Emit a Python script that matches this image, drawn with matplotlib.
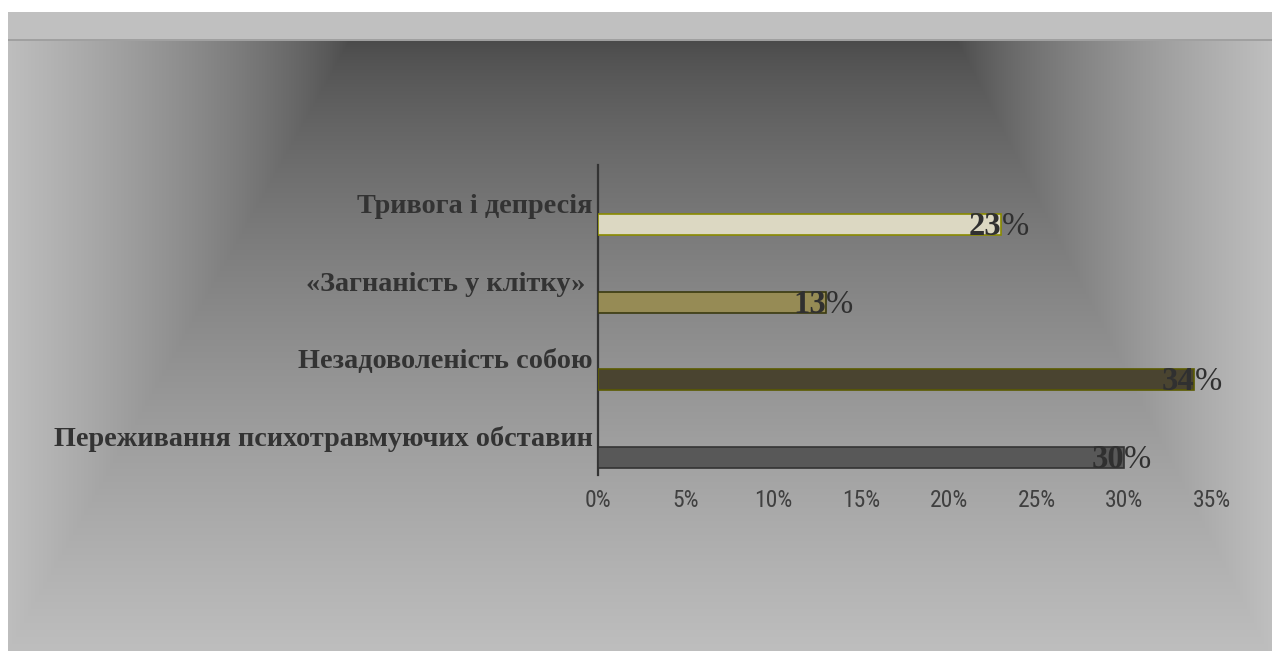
import numpy as np
import matplotlib
matplotlib.use('Agg')
import matplotlib.pyplot as plt
from matplotlib import font_manager

# ---- data ----
categories = ["Переживання психотравмуючих обставин", "Незадоволеність собою",
              "«Загнаність у клітку» ", "Тривога і депресія"]
values = [30, 34, 13, 23]
fill_colors = ["#585858", "#4a4430", "#968b55", "#dcd8c2"]
edge_colors = ["#333333", "#5a5a00", "#3a3a10", "#8a8a00"]
xticks = [0, 5, 10, 15, 20, 25, 30, 35]
xtick_labels = ["0%", "5%", "10%", "15%", "20%", "25%", "30%", "35%"]

# pick a narrow sans font for the tick labels if one is installed
fonts = font_manager.fontManager.ttflist
narrow_family, narrow_stretch = "DejaVu Sans", "normal"
for cand in ["Liberation Sans Narrow", "Roboto Condensed", "Open Sans Condensed", "Noto Sans Condensed"]:
    if any(f.name == cand for f in fonts):
        narrow_family = cand
        break
else:
    for f in fonts:
        if f.name in ("Roboto", "Noto Sans", "DejaVu Sans", "Open Sans") and "condensed" in str(f.stretch).lower():
            narrow_family, narrow_stretch = f.name, "condensed"
            break

W, H = 1274, 651
fig = plt.figure(figsize=(W / 100, H / 100), dpi=100)

# ---- background gradient ----
bg = fig.add_axes([0, 0, 1, 1])
bg.set_axis_off()
yy, xx = np.mgrid[0:H, 0:W] + 0.5
tl = (350 - xx) / 342
tr = (xx - 957) / 311
tv = (yy - 40) / 611
t = np.clip(np.maximum.reduce([tl, tr, tv]), 0, 1)
val = 74 + 116 * t ** 0.75
val[yy < 39] = 192
band = (yy >= 39) & (yy < 41)
val[band] = 160
img = np.stack([val] * 3, -1) / 255.0
white = (yy < 12) | (xx < 8) | (xx > 1272)
img[white] = 1.0
bg.imshow(img, extent=[0, W, H, 0], aspect='auto', interpolation='bilinear')
bg.set_xlim(0, W)
bg.set_ylim(H, 0)

# ---- main axes ----
ax = fig.add_axes([598 / W, (H - 475) / H, 614 / W, 310 / H])
ax.patch.set_alpha(0)
pos = np.arange(len(categories))
off = 0.27
bh = 0.27
ax.barh(pos - off, values, height=bh, color=fill_colors, edgecolor=edge_colors, linewidth=1.2, zorder=3)
ax.set_xlim(0, 35)
ax.set_ylim(-0.5, len(categories) - 0.5)
for s in ["top", "right", "bottom"]:
    ax.spines[s].set_visible(False)
ax.spines["left"].set_color("#333333")
ax.spines["left"].set_linewidth(1.6)
ax.set_xticks(xticks)
ax.set_xticklabels(xtick_labels, family=[narrow_family], fontstretch=narrow_stretch,
                   fontsize=17, color="#404040")
ax.set_yticks(pos)
ax.set_yticklabels(categories, family=["Liberation Serif"], fontweight="bold", fontsize=20.3, color="#333333")
ax.tick_params(axis="x", length=0, pad=10)
ax.tick_params(axis="y", length=0, pad=4)

for p, v in zip(pos, values):
    yb = p - off - bh / 2
    ax.text(v, yb, f"{v}", ha="right", va="baseline", family=["Liberation Serif"], fontweight="bold",
            fontsize=23.5, color="#303030", zorder=4)
    ax.text(v, yb, "%", ha="left", va="baseline", family=["Liberation Serif"],
            fontsize=23.5, color="#303030", zorder=4)

fig.savefig("out.png", dpi=100)
